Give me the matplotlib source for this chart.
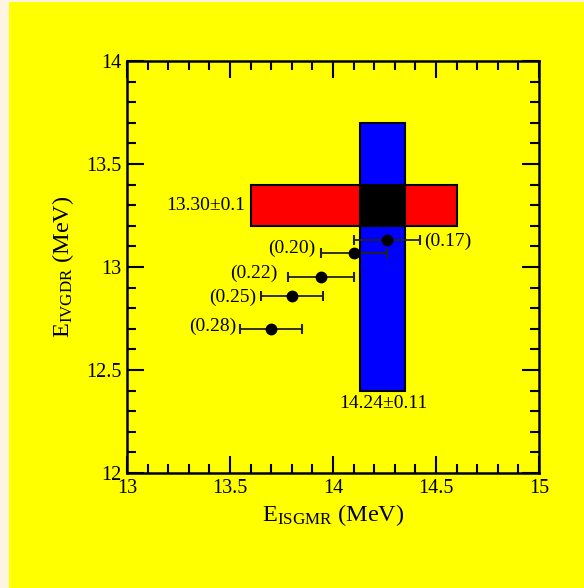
import matplotlib
matplotlib.use("Agg")
import matplotlib.pyplot as plt
from matplotlib.patches import Rectangle
from matplotlib.ticker import MultipleLocator, FormatStrFormatter

plt.rcParams["font.family"] = ["Liberation Serif", "DejaVu Serif"]
plt.rcParams["mathtext.fontset"] = "custom"
plt.rcParams["mathtext.rm"] = "Liberation Serif"
plt.rcParams["mathtext.it"] = "Liberation Serif:italic"

# Experimental bands: ISGMR (vertical, blue) and IVGDR (horizontal, red)
isgmr_center, isgmr_err = 14.24, 0.11
isgmr_ylim = (12.4, 13.7)
ivgdr_center, ivgdr_err = 13.30, 0.10
ivgdr_xlim = (13.6, 14.6)

# Model calculations labelled by parameter value
model_labels = ["(0.17)", "(0.20)", "(0.22)", "(0.25)", "(0.28)"]
model_isgmr = [14.26, 14.10, 13.94, 13.80, 13.70]
model_ivgdr = [13.13, 13.07, 12.95, 12.86, 12.70]
model_xerr = [0.16, 0.16, 0.16, 0.15, 0.15]

yellow = "#ffff00"
fig = plt.figure(figsize=(5.84, 5.88), dpi=100, facecolor=yellow)
fig.patches.append(Rectangle((0, 0), 9 / 584, 1, transform=fig.transFigure,
                             facecolor="#fdf5e1", edgecolor="none", zorder=0))
fig.patches.append(Rectangle((0, 1 - 2 / 588), 1, 2 / 588, transform=fig.transFigure,
                             facecolor="#fdf5e1", edgecolor="none", zorder=0))

ax = fig.add_axes([127 / 584, 1 - 473 / 588, 412 / 584, 412 / 588])
ax.set_facecolor(yellow)
ax.set_xlim(13, 15)
ax.set_ylim(12, 14)

# red IVGDR band
ax.add_patch(Rectangle((ivgdr_xlim[0], ivgdr_center - ivgdr_err),
                       ivgdr_xlim[1] - ivgdr_xlim[0], 2 * ivgdr_err,
                       facecolor="#ff0000", edgecolor="black", lw=1.5, zorder=2))
# blue ISGMR band
ax.add_patch(Rectangle((isgmr_center - isgmr_err, isgmr_ylim[0]),
                       2 * isgmr_err, isgmr_ylim[1] - isgmr_ylim[0],
                       facecolor="#0000ff", edgecolor="black", lw=1.5, zorder=2))
# overlap region
ax.add_patch(Rectangle((isgmr_center - isgmr_err, ivgdr_center - ivgdr_err),
                       2 * isgmr_err, 2 * ivgdr_err,
                       facecolor="black", edgecolor="black", lw=1.5, zorder=3))

ax.errorbar(model_isgmr, model_ivgdr, xerr=model_xerr, fmt="o", color="black",
            ecolor="#222222", elinewidth=1.3, capsize=3.5, capthick=1.5,
            markersize=7.5, zorder=5)

for i, (lab, x, y, xe) in enumerate(zip(model_labels, model_isgmr, model_ivgdr, model_xerr)):
    if i == 0:
        ax.annotate(lab, (x + xe, y), xytext=(3, -1), textcoords="offset points",
                    ha="left", va="center", fontsize=14)
    else:
        dy = [0, 3, 3, -1, 2][i]
        dx = [0, -3.5, -7, -3, -2.5][i]
        ax.annotate(lab, (x - xe, y), xytext=(dx, dy), textcoords="offset points",
                    ha="right", va="center", fontsize=14)

ax.annotate(f"{ivgdr_center:.2f}±{ivgdr_err:.1f}", (ivgdr_xlim[0], ivgdr_center),
            xytext=(-4, 0), textcoords="offset points", ha="right", va="center",
            fontsize=14)
ax.annotate(f"{isgmr_center:.2f}±{isgmr_err:.2f}", (isgmr_center, isgmr_ylim[0]),
            xytext=(1, -3), textcoords="offset points", ha="center", va="top",
            fontsize=14)

ax.xaxis.set_major_locator(MultipleLocator(0.5))
ax.xaxis.set_minor_locator(MultipleLocator(0.1))
ax.yaxis.set_major_locator(MultipleLocator(0.5))
ax.yaxis.set_minor_locator(MultipleLocator(0.1))
ax.xaxis.set_major_formatter(FormatStrFormatter("%g"))
ax.yaxis.set_major_formatter(FormatStrFormatter("%g"))
ax.tick_params(which="both", direction="in", top=True, right=True,
               width=1.5, labelsize=14.5, color="black")
ax.tick_params(which="major", length=12.5, pad=4)
ax.tick_params(which="minor", length=6.5)
for s in ax.spines.values():
    s.set_linewidth(1.8)

ax.set_xlabel(r"E$_{\rm ISGMR}$ (MeV)", fontsize=17.5, labelpad=3)
ax.set_ylabel(r"E$_{\rm IVGDR}$ (MeV)", fontsize=17.5, labelpad=7)

fig.savefig("out.png", dpi=100, facecolor=yellow)
